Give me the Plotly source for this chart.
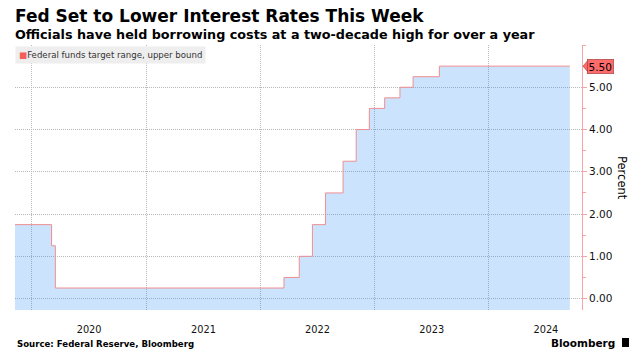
import plotly.graph_objects as go

# ---- data ----
dates = ["2019-11-08", "2020-03-04", "2020-03-16", "2022-03-17", "2022-05-05",
         "2022-06-16", "2022-07-28", "2022-09-22", "2022-11-03", "2022-12-15",
         "2023-02-02", "2023-03-23", "2023-05-04", "2023-07-27", "2024-09-16"]
rates = [1.75, 1.25, 0.25, 0.50, 1.00, 1.75, 2.50, 3.25, 4.00, 4.50,
         4.75, 5.00, 5.25, 5.50, 5.50]
y_ticks = [0, 1, 2, 3, 4, 5]
y_ticktext = ["0.00", "1.00", "2.00", "3.00", "4.00", "5.00"]
last_label = "5.50"
series_name = "Federal funds target range, upper bound"
title = "Fed Set to Lower Interest Rates This Week"
subtitle = "Officials have held borrowing costs at a two-decade high for over a year"
source = "Source: Federal Reserve, Bloomberg"

W, H = 639, 362
L, R, T, B = 15, 57, 45, 52
PW, PH = W - L - R, H - T - B
Y_MIN, Y_MAX = -0.27, 6.0
X_RANGE = ["2019-11-08", "2024-10-25"]

def px_x(px):
    return (px - L) / PW

def px_y(py):
    return (H - B - py) / PH

FONT = "DejaVu Sans"
PINK = "#f5a3a6"
GRID = "#b8b8b8"

fig = go.Figure()
# baseline (bottom of plot) for the area fill
fig.add_trace(go.Scatter(x=[dates[0], dates[-1]], y=[Y_MIN, Y_MIN], mode="lines",
                         line=dict(width=0, shape="hv"), showlegend=False, hoverinfo="skip"))
fig.add_trace(go.Scatter(x=dates, y=rates, mode="lines", name=series_name,
                         line=dict(color="#ee8f92", width=1, shape="hv"),
                         fill="tonexty", fillcolor="rgba(51,143,247,0.25)", showlegend=False))

fig.update_layout(
    width=W, height=H, margin=dict(l=L, r=R, t=T, b=B, autoexpand=False),
    paper_bgcolor="white", plot_bgcolor="white", showlegend=False,
    font=dict(family=FONT, color="#000"),
    xaxis=dict(type="date", range=X_RANGE, tick0="2020-01-01", dtick="M12",
               tickformat="%Y", ticklabelmode="period", showgrid=True,
               gridcolor=GRID, griddash="1px,1px", gridwidth=1, automargin=False,
               ticks="", showline=False, zeroline=False, ticklabelstandoff=12,
               tickfont=dict(size=9.8, family=FONT, color="#111")),
    yaxis=dict(side="right", range=[Y_MIN, Y_MAX], tickvals=y_ticks, ticktext=y_ticktext,
               showgrid=True, gridcolor=GRID, griddash="1px,1px", gridwidth=1,
               zeroline=False, showline=True, linecolor=PINK, linewidth=1, automargin=False,
               ticks="outside", ticklen=4, tickcolor=PINK,
               minor=dict(dtick=0.5, tick0=0, ticks="outside", ticklen=3, tickcolor=PINK, showgrid=False),
               tickfont=dict(size=10.5, family=FONT, color="#111")),
)

annos = [
    dict(text="<b>" + title + "</b>", x=px_x(13), y=px_y(16), xanchor="left", yanchor="middle",
         font=dict(size=17, family=FONT, color="#000")),
    dict(text="<b>" + subtitle + "</b>", x=px_x(13), y=px_y(34), xanchor="left", yanchor="middle",
         font=dict(size=12.75, family=FONT, color="#000")),
    dict(text="<b>" + source + "</b>", x=px_x(15), y=px_y(344), xanchor="left", yanchor="middle",
         font=dict(size=8.6, family=FONT, color="#000")),
    dict(text="<b>Bloomberg</b>", x=px_x(617), y=px_y(343), xanchor="right", yanchor="middle",
         font=dict(size=10.5, family=FONT, color="#000")),
    dict(text="Percent", x=px_x(622), y=px_y(178), xanchor="center", yanchor="middle",
         textangle=90, font=dict(size=11.5, family=FONT, color="#000")),
    dict(text="<span style='color:#f25f5c'>■</span>" + series_name, x=0, y=1, xanchor="left",
         yanchor="top", bgcolor="#eeeeee", borderpad=3, yshift=-1,
         font=dict(size=8.6, family=FONT, color="#333")),
    dict(text=last_label, xref="paper", yref="y", x=1, y=rates[-1], xanchor="left", yanchor="middle",
         xshift=5, bgcolor="#ff6b6b", bordercolor="#9a3a3a", borderwidth=0.6, borderpad=1,
         font=dict(size=10.5, family=FONT, color="#000")),
]
for a in annos:
    a.setdefault("xref", "paper")
    a.setdefault("yref", "paper")
    a["showarrow"] = False
fig.update_layout(annotations=annos)

# pointer of the last-value label
fig.add_shape(type="path", xref="paper", yref="y", xsizemode="pixel", ysizemode="pixel",
              xanchor=1, yanchor=rates[-1], path="M 1 0 L 6 -6 L 6 6 Z",
              fillcolor="#ff6b6b", line=dict(color="#9a3a3a", width=0.6))
# Bloomberg glyph
fig.add_shape(type="rect", xref="paper", yref="paper", x0=px_x(622), x1=px_x(629),
              y0=px_y(347), y1=px_y(338), fillcolor="#000", line=dict(width=0))

fig.write_html("out.html", config={"displayModeBar": False},
               post_script="document.body.style.margin='0px';")
